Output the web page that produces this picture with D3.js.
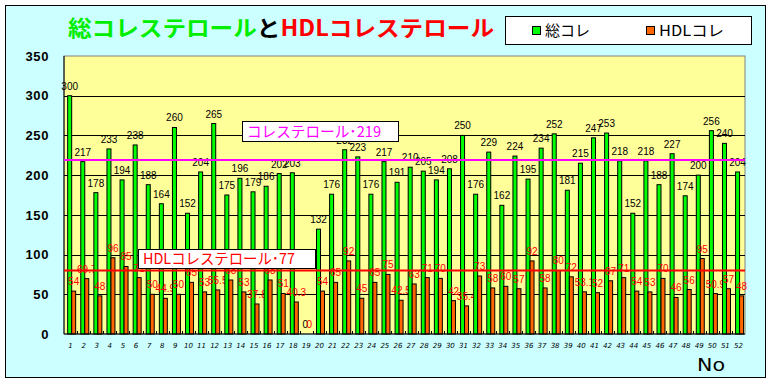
<!DOCTYPE html>
<html lang="ja">
<head>
<meta charset="UTF-8">
<title>総コレステロールとHDLコレステロール</title>
<script src="https://d3js.org/d3.v7.min.js"></script>
<style>
  body { margin: 0; background: #fff; }
  svg { display: block; }
  .val { font-family: "Liberation Sans", sans-serif; font-size: 10px; }
</style>
</head>
<body>
<script>
  // データ
  var categories = ["1","2","3","4","5","6","7","8","9","10","11","12","13","14","15","16","17","18","19","20",
    "21","22","23","24","25","26","27","28","29","30","31","32","33","34","35","36","37","38","39","40",
    "41","42","43","44","45","46","47","48","49","50","51","52"];
  var totalChol = [300,217,178,233,194,238,188,164,260,152,
    204,265,175,196,179,186,202,203,0,132,
    176,232,223,176,217,191,210,205,194,208,
    250,176,229,162,224,195,234,252,181,215,
    247,253,218,152,218,188,227,174,200,256,240,204];
  var hdlChol = [54,69.7,48,96,85,71,50,44.9,50,65,
    53,55.5,68,53,37.8,68,51,40.3,0,54,
    65,92,45,65,75,42.5,63,71,70,42,
    35.4,73,58,60,57,92,58,80,72,53.1,
    52,67,71,54,53,70,46,56,95,50.9,57,48];
  var seriesNames = ["総コレ", "HDLコレ"];
  var yTicks = [0, 50, 100, 150, 200, 250, 300, 350];
  // 基準線（線の高さは図から読んだ値）
  var refLevels = [219, 80];
  var refLabels = ["コレステロール･219", "HDLコレステロール･77"];

  var width = 770, height = 382;
  var plot = { left: 64, right: 745, top: 56, bottom: 334 };
  var colors = { total: "#00ff00", hdl: "#ff6600" };

  var svg = d3.select("body").append("svg")
    .attr("width", width)
    .attr("height", height);

  // 外枠
  svg.append("rect")
    .attr("x", 5.5).attr("y", 5.5)
    .attr("width", 760).attr("height", 372)
    .attr("fill", "#ccffff")
    .attr("stroke", "#000");

  var x0 = d3.scaleBand()
    .domain(categories)
    .range([plot.left, plot.right])
    .padding(0);
  var x1 = d3.scaleBand()
    .domain(["total", "hdl"])
    .range([0, x0.bandwidth()])
    .paddingInner(0)
    .paddingOuter(0.64)
    .align(0.72);
  var y = d3.scaleLinear()
    .domain([0, 350])
    .range([plot.bottom, plot.top]);

  // プロットエリア
  svg.append("rect")
    .attr("x", plot.left).attr("y", plot.top)
    .attr("width", plot.right - plot.left)
    .attr("height", plot.bottom - plot.top)
    .attr("fill", "#ffff99")
    .attr("stroke", "#808080");

  // 目盛線
  svg.append("g")
    .attr("transform", "translate(" + plot.left + ",0)")
    .call(d3.axisLeft(y).tickValues(yTicks.slice(1, -1)).tickSize(-(plot.right - plot.left)).tickFormat(""))
    .call(function (g) { g.select(".domain").remove(); })
    .selectAll("line").attr("stroke", "#000").attr("shape-rendering", "crispEdges");

  // Y軸ラベル
  svg.append("g")
    .attr("transform", "translate(" + plot.left + ",0)")
    .call(d3.axisLeft(y).tickValues(yTicks).tickSize(0).tickPadding(15))
    .call(function (g) { g.select(".domain").remove(); })
    .selectAll("text")
    .attr("font-family", "Liberation Sans, sans-serif")
    .attr("font-weight", "bold")
    .attr("font-size", 13)
    .attr("letter-spacing", 0.6)
    .attr("fill", "#000");

  // 棒
  var groups = svg.append("g").selectAll("g")
    .data(categories)
    .enter().append("g")
    .attr("transform", function (d) { return "translate(" + x0(d) + ",0)"; });

  groups.append("rect")
    .attr("x", x1("total"))
    .attr("y", function (d, i) { return y(totalChol[i]); })
    .attr("width", x1.bandwidth())
    .attr("height", function (d, i) { return y(0) - y(totalChol[i]); })
    .attr("fill", colors.total)
    .attr("stroke", "#000")
    .attr("stroke-width", 1);

  groups.append("rect")
    .attr("x", x1("hdl"))
    .attr("y", function (d, i) { return y(hdlChol[i]); })
    .attr("width", x1.bandwidth())
    .attr("height", function (d, i) { return y(0) - y(hdlChol[i]); })
    .attr("fill", colors.hdl)
    .attr("stroke", "#000")
    .attr("stroke-width", 1);

  // 軸線
  svg.append("line")
    .attr("x1", plot.left).attr("x2", plot.left)
    .attr("y1", plot.top).attr("y2", plot.bottom)
    .attr("stroke", "#000");
  svg.append("line")
    .attr("x1", plot.left).attr("x2", plot.right)
    .attr("y1", plot.bottom).attr("y2", plot.bottom)
    .attr("stroke", "#000");

  // 区切りの小さい目盛
  svg.append("g").selectAll("line")
    .data(categories.slice(1))
    .enter().append("line")
    .attr("x1", function (d) { return Math.round(x0(d)) + 0.5; })
    .attr("x2", function (d) { return Math.round(x0(d)) + 0.5; })
    .attr("y1", plot.bottom)
    .attr("y2", plot.bottom - 3)
    .attr("stroke", "#000");

  // 値ラベル
  groups.append("text")
    .attr("class", "val")
    .attr("x", x1("total") + x1.bandwidth() / 2)
    .attr("y", function (d, i) { return y(totalChol[i]) - 6; })
    .attr("text-anchor", "middle")
    .attr("fill", "#000")
    .text(function (d, i) { return totalChol[i]; });

  groups.append("text")
    .attr("class", "val")
    .attr("x", x1("hdl") + x1.bandwidth() / 2)
    .attr("y", function (d, i) { return y(hdlChol[i]) - 6; })
    .attr("text-anchor", "middle")
    .attr("fill", "#ff0000")
    .text(function (d, i) { return hdlChol[i]; });

  // X軸ラベル
  svg.append("g")
    .attr("transform", "translate(0," + plot.bottom + ")")
    .call(d3.axisBottom(x0).tickSize(0).tickPadding(9))
    .call(function (g) { g.select(".domain").remove(); })
    .selectAll("text")
    .attr("font-family", "DejaVu Sans, sans-serif")
    .attr("font-style", "italic")
    .attr("font-size", 7)
    .attr("fill", "#000");

  // 基準線
  var refColors = ["#ff00ff", "#ff0000"];
  svg.append("g").selectAll("line")
    .data(refLevels)
    .enter().append("line")
    .attr("x1", plot.left).attr("x2", plot.right)
    .attr("y1", function (d) { return y(d); })
    .attr("y2", function (d) { return y(d); })
    .attr("stroke", function (d, i) { return refColors[i]; })
    .attr("stroke-width", 2);

  var refBoxes = [
    { x: 242, y: 121, w: 156, h: 20, tl: 134 },
    { x: 138, y: 249, w: 177, h: 19, tl: 152 }
  ];
  refBoxes.forEach(function (b, i) {
    svg.append("rect")
      .attr("x", b.x + 0.5).attr("y", b.y + 0.5)
      .attr("width", b.w).attr("height", b.h)
      .attr("fill", "#fff")
      .attr("stroke", "#000");
    svg.append("text")
      .attr("x", b.x + 5)
      .attr("y", b.y + b.h - 4)
      .attr("font-family", "Noto Sans CJK JP, sans-serif")
      .attr("font-size", 15)
      .attr("fill", refColors[i])
      .attr("textLength", b.tl)
      .attr("lengthAdjust", "spacingAndGlyphs")
      .text(refLabels[i]);
  });

  // タイトル
  var title = svg.append("text")
    .attr("x", 68).attr("y", 36)
    .attr("font-family", "Noto Sans CJK JP, sans-serif")
    .attr("font-weight", "bold")
    .attr("font-size", 22)
    .attr("textLength", 426)
    .attr("lengthAdjust", "spacingAndGlyphs");
  title.append("tspan").attr("fill", "#00ee00").text("総コレステロール");
  title.append("tspan").attr("fill", "#000").text("と");
  title.append("tspan").attr("fill", "#ff0000").text("HDLコレステロール");

  // 凡例
  svg.append("rect")
    .attr("x", 505.5).attr("y", 16.5)
    .attr("width", 246).attr("height", 28)
    .attr("fill", "#fff").attr("stroke", "#000");
  var legendX = [532, 646];
  var legendW = [45, 65];
  [colors.total, colors.hdl].forEach(function (c, i) {
    svg.append("rect")
      .attr("x", legendX[i] + 0.5).attr("y", 26.5)
      .attr("width", 8).attr("height", 8)
      .attr("fill", c).attr("stroke", "#000");
    svg.append("text")
      .attr("x", legendX[i] + 13).attr("y", 36)
      .attr("font-family", "Noto Sans CJK JP, sans-serif")
      .attr("font-size", 15)
      .attr("textLength", legendW[i])
      .attr("lengthAdjust", "spacingAndGlyphs")
      .attr("fill", "#000")
      .text(seriesNames[i]);
  });

  // X軸タイトル
  svg.append("text")
    .attr("x", 697).attr("y", 371)
    .attr("font-family", "DejaVu Sans, sans-serif")
    .attr("font-size", 17)
    .attr("textLength", 28)
    .attr("lengthAdjust", "spacingAndGlyphs")
    .attr("fill", "#000")
    .text("No");
</script>
</body>
</html>
